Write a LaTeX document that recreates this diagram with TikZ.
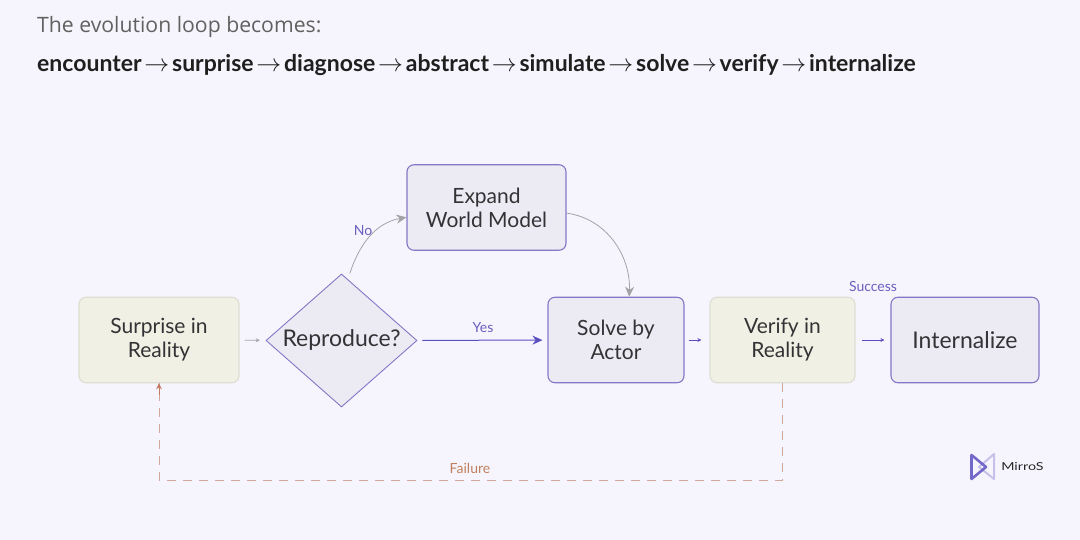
\documentclass[tikz,border=0pt]{standalone}
\usepackage{fontspec}
\setmainfont{Lato}
\newfontfamily\headfont{Open Sans}
\usetikzlibrary{shapes.geometric,arrows.meta,positioning}
\definecolor{pagebg}{HTML}{F6F5FD}
\definecolor{boxfill}{HTML}{ECEAF3}
\definecolor{boxline}{HTML}{8378C6}
\definecolor{realfill}{HTML}{F1F0E4}
\definecolor{realline}{HTML}{DEDDD2}
\definecolor{inktext}{HTML}{333335}
\definecolor{flowblue}{HTML}{5B4FC0}
\definecolor{labelblue}{HTML}{6A5FBE}
\definecolor{failline}{HTML}{D3A79B}
\definecolor{failtip}{HTML}{C27A5E}
\definecolor{failtext}{HTML}{C0805F}
\definecolor{greyline}{HTML}{A3A3A6}
\newcommand{\loopsep}{\hspace{2.8pt}$\rightarrow$\hspace{2.8pt}}
\tikzset{
  modelbox/.style={draw=boxline, fill=boxfill, line width=1.1pt, rounded corners=7pt, align=center,
    text=inktext, font=\fontsize{21}{24}\selectfont, inner sep=0pt, minimum height=85.5pt},
  realbox/.style={modelbox, draw=realline, fill=realfill},
  edgelabel/.style={font=\fontsize{14}{16}\selectfont, text=labelblue, inner sep=0pt},
  thinflow/.style={line width=0.6pt, -{Stealth[length=4pt,width=4pt]}},
  bigtip/.style={-{Stealth[length=10pt,width=9pt]}},
}
\begin{document}
\begin{tikzpicture}[x=1pt,y=-1pt]
  \useasboundingbox (0,0) rectangle (1080,540);
  \fill[pagebg] (0,0) rectangle (1080,540);
  % Heading lines
  \node[anchor=base west, inner sep=0pt, text=black!62, font=\headfont\fontsize{21.2}{26}\selectfont] (headline) at (37,33) {The evolution loop becomes:};
  \node[anchor=base west, inner sep=0pt, text=black!88, font=\bfseries\fontsize{23}{26}\selectfont] (loopline) at (37,71.5)
    {encounter\loopsep surprise\loopsep diagnose\loopsep abstract\loopsep simulate\loopsep solve\loopsep verify\loopsep internalize};
  % Flow nodes
  \node[realbox, minimum width=160pt] (surprise) at (159,340) {Surprise in\\Reality};
  \node[diamond, draw=boxline, fill=boxfill, line width=0.9pt, aspect=1.135, minimum width=151pt, minimum height=133pt,
    inner sep=0pt, text=inktext, font=\fontsize{23}{26}\selectfont] (reproduce) at (341.5,340.5) {Reproduce?};
  \node[modelbox, minimum width=159pt] (expand) at (486.5,207.5) {Expand\\World Model};
  \node[modelbox, minimum width=136pt] (solve) at (616,340) {Solve by\\Actor};
  \node[realbox, minimum width=145pt] (verify) at (782.5,340) {Verify in\\Reality};
  \node[modelbox, minimum width=148pt, font=\fontsize{23}{26}\selectfont] (internalize) at (965,340) {Internalize};
  % Connectors
  \draw[thinflow, greyline, shorten <=5pt, shorten >=6pt] (surprise) -- (reproduce);
  \draw[line width=1pt, flowblue, bigtip, shorten <=5pt, shorten >=5pt] (reproduce) -- (solve);
  \draw[line width=0.8pt, greyline, bigtip, shorten <=6pt] (reproduce.84) to[out=72, in=190] (expand.187);
  \draw[line width=0.8pt, greyline, bigtip] (expand.-4) to[out=-8, in=88] (solve.73);
  \draw[thinflow, flowblue, shorten <=4pt, shorten >=8pt] (solve) -- (verify);
  \draw[thinflow, flowblue, shorten <=6pt, shorten >=6pt] (verify) -- (internalize);
  \draw[line width=0.9pt, failline, dash pattern=on 9pt off 7pt] (verify.south) -- ++(0,97) coordinate (failcorner) -| (surprise.south);
  \draw[line width=0.9pt, failtip, -{Stealth[length=6pt,width=6pt]}] (159,395) -- (surprise.south);
  % Edge labels
  \node[edgelabel] (nolabel) at (363,231) {No};
  \node[edgelabel] (yeslabel) at (483,327.5) {Yes};
  \node[edgelabel] (successlabel) at (873,286) {Success};
  \node[edgelabel, text=failtext] (failurelabel) at (470,468) {Failure};
  % Logo
  \draw[flowblue!35, line width=2pt, line join=round] (994,454) -- (994,479) -- (979,467) -- cycle;
  \draw[flowblue!85, line width=2.6pt, line join=round] (971.5,479) -- (971.5,455) -- (986,467) -- cycle;
  \node[anchor=west, inner sep=0pt, text=black!85, xscale=1.3, font=\fontsize{11}{12}\selectfont] (logotext) at (1001,466.5) {MirroS};
\end{tikzpicture}
\end{document}
